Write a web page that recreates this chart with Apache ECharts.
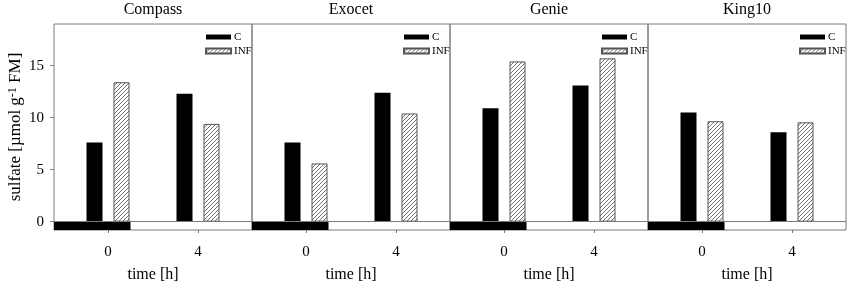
<!DOCTYPE html>
<html>
<head>
<meta charset="utf-8">
<script src="https://cdn.jsdelivr.net/npm/echarts@6/dist/echarts.min.js"></script>
<style>html,body{margin:0;padding:0;background:#fff}#c{width:850px;height:290px}</style>
</head>
<body>
<div id="c"></div>
<script>
// ---- data ----
const cultivars = ['Compass', 'Exocet', 'Genie', 'King10'];
const times = [0, 4];                 // time [h]
const C_compass = [7.6, 12.3];
const INF_compass = [13.4, 9.4];
const C_exocet = [7.6, 12.4];
const INF_exocet = [5.6, 10.4];
const C_genie = [10.9, 13.1];
const INF_genie = [15.4, 15.7];
const C_king10 = [10.5, 8.6];
const INF_king10 = [9.65, 9.55];
const darkUntil = 1;                  // dark period ends at t = 1 h
const xTickValues = [0, 4];
const yTickValues = [0, 5, 10, 15];

const cValues = [C_compass, C_exocet, C_genie, C_king10];
const infValues = [INF_compass, INF_exocet, INF_genie, INF_king10];

// ---- layout / style ----
const FONT = "'Liberation Serif','Times New Roman',serif";
const GRAY = '#7a7a7a';
const X_MIN = -2.4, X_MAX = 6.4, Y_MIN = -0.8, Y_MAX = 19;
const BAR_OFFSET = 0.6;
const PANEL_LEFT = 54, PANEL_W = 198, PANEL_TOP = 24, PANEL_H = 206;

const hatch = (() => {
  const s = 4;
  const c = document.createElement('canvas');
  c.width = s; c.height = s;
  const g = c.getContext('2d');
  g.fillStyle = '#fff'; g.fillRect(0, 0, s, s);
  g.strokeStyle = '#707070'; g.lineWidth = 1;
  g.beginPath();
  g.moveTo(0, s); g.lineTo(s, 0);
  g.moveTo(-1, 1); g.lineTo(1, -1);
  g.moveTo(s - 1, s + 1); g.lineTo(s + 1, s - 1);
  g.stroke();
  return c;
})();

const grid = [], xAxis = [], yAxis = [], series = [], title = [], legend = [];
cultivars.forEach((name, i) => {
  const left = PANEL_LEFT + PANEL_W * i;
  grid.push({left: left, top: PANEL_TOP, width: PANEL_W, height: PANEL_H, show: true,
    borderColor: GRAY, borderWidth: 1, backgroundColor: 'transparent'});
  title.push({text: name, left: left + PANEL_W / 2, top: 2, textAlign: 'center', padding: 0,
    textStyle: {fontFamily: FONT, fontSize: 16, fontWeight: 'normal', color: '#000'}});
  legend.push({data: ['C', 'INF'], orient: 'vertical', left: left + 151, top: 31, padding: 0,
    itemWidth: 25, itemHeight: 5, itemGap: 2, icon: 'rect', selectedMode: false,
    textStyle: {fontFamily: FONT, fontSize: 11, color: '#000', lineHeight: 12, padding: [0, 0, 0, -2]}});
  xAxis.push({type: 'value', gridIndex: i, min: X_MIN, max: X_MAX,
    name: 'time [h]', nameLocation: 'middle', nameGap: 37,
    nameTextStyle: {fontFamily: FONT, fontSize: 16, color: '#000'},
    axisLine: {show: false, onZero: false},
    axisTick: {show: true, length: 3, customValues: xTickValues, lineStyle: {color: GRAY}},
    axisLabel: {show: true, customValues: xTickValues, margin: 15, fontFamily: FONT, fontSize: 15, color: '#000'},
    splitLine: {show: false}});
  yAxis.push({type: 'value', gridIndex: i, min: Y_MIN, max: Y_MAX,
    name: i === 0 ? '{a|sulfate [µmol g}{s|-1}{a| FM]}' : '',
    nameLocation: 'middle', nameGap: 30,
    nameTextStyle: {rich: {
      a: {fontFamily: FONT, fontSize: 17, color: '#000'},
      s: {fontFamily: FONT, fontSize: 12, color: '#000', verticalAlign: 'top'}}},
    axisLine: {show: false, onZero: false},
    axisTick: {show: i === 0, length: 4, customValues: yTickValues, lineStyle: {color: GRAY}},
    axisLabel: {show: i === 0, customValues: yTickValues, margin: 10, fontFamily: FONT, fontSize: 15, color: '#000'},
    splitLine: {show: false}});
  series.push({
    name: 'C', type: 'bar', xAxisIndex: i, yAxisIndex: i,
    data: times.map((t, k) => [t - BAR_OFFSET, cValues[i][k]]),
    barWidth: 16, barGap: '-100%',
    itemStyle: {color: '#000'},
    emphasis: {disabled: true},
    markLine: {silent: true, symbol: 'none', label: {show: false},
      lineStyle: {color: GRAY, type: 'solid', width: 1}, data: [{yAxis: 0}]},
    markArea: {silent: true, itemStyle: {color: '#000'},
      data: [[{xAxis: X_MIN, yAxis: Y_MIN}, {xAxis: darkUntil, yAxis: 0}]]}
  });
  series.push({
    name: 'INF', type: 'bar', xAxisIndex: i, yAxisIndex: i,
    data: times.map((t, k) => [t + BAR_OFFSET, infValues[i][k]]),
    barWidth: 16, barGap: '-100%',
    itemStyle: {color: {image: hatch, repeat: 'repeat'}, borderColor: '#555', borderWidth: 1},
    emphasis: {disabled: true}
  });
});

const chart = echarts.init(document.getElementById('c'), null, {renderer: 'canvas'});
chart.setOption({animation: false, backgroundColor: '#fff', title, legend, grid, xAxis, yAxis, series});
</script>
</body>
</html>
